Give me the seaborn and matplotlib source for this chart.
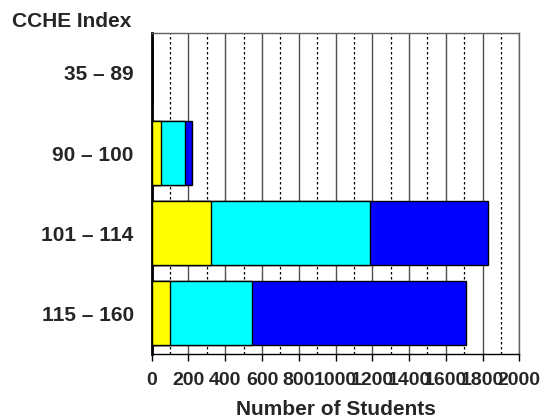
import numpy as np
import pandas as pd
import matplotlib
matplotlib.use("Agg")
import matplotlib.pyplot as plt
import seaborn as sns
from matplotlib.ticker import MultipleLocator

# ── data ─────────────────────────────────────────────────────
cche_index = ['35 – 89', '90 – 100', '101 – 114', '115 – 160']
group_low = [0, 52, 324, 101]
group_mid = [0, 131, 866, 445]
group_high = [0, 36, 638, 1166]

colors = ['#FFFF00', '#00FFFF', '#0000FF']

sns.set_theme(style="white")
plt.rcParams['font.family'] = ['Liberation Sans', 'DejaVu Sans']
plt.rcParams['font.weight'] = 'bold'

df = pd.DataFrame({'index': cche_index, 'low': group_low,
                   'mid': group_mid, 'high': group_high})
df['c1'] = df['low']
df['c2'] = df['c1'] + df['mid']
df['c3'] = df['c2'] + df['high']

fig = plt.figure(figsize=(5.43, 4.19), dpi=100)
ax = fig.add_axes([151.7 / 543, 1 - 353.5 / 419, (519.3 - 151.7) / 543, (353.5 - 32.7) / 419])

# stacked bars: draw cumulative totals, widest first
for col, c in zip(['c3', 'c2', 'c1'], colors[::-1]):
    sns.barplot(data=df, x=col, y='index', order=cche_index, orient='h',
                color=c, saturation=1, width=0.8, edgecolor='black',
                linewidth=1, ax=ax, zorder=3)

ax.set_xlim(0, 2000)
ax.set_ylim(3.5, -0.5)
ax.xaxis.set_major_locator(MultipleLocator(200))
ax.xaxis.set_minor_locator(MultipleLocator(100))
ax.grid(which='major', axis='x', color='#505050', linewidth=1, linestyle='-', zorder=0)
ax.grid(which='minor', axis='x', color='black', linewidth=0.9, linestyle=(0, (2, 2)), zorder=0)
ax.grid(axis='y', visible=False)
ax.set_axisbelow(True)

for s in ['top', 'right']:
    ax.spines[s].set_color('#606060')
    ax.spines[s].set_linewidth(1)
ax.spines['left'].set_color('black')
ax.spines['left'].set_linewidth(2)
ax.spines['bottom'].set_color('black')
ax.spines['bottom'].set_linewidth(1)

ax.tick_params(axis='x', which='major', direction='out', length=5, width=1,
               color='black', bottom=True, labelsize=14, pad=8)
ax.tick_params(axis='x', which='minor', length=0)
ax.tick_params(axis='y', length=0, labelsize=15, pad=13)
for lab in ax.get_xticklabels() + ax.get_yticklabels():
    lab.set_fontweight('bold')

ax.set_ylabel('')
ax.set_xlabel('Number of Students', fontsize=15, fontweight='bold', labelpad=8)

fig.text(12 / 543, 1 - 27 / 419, 'CCHE Index', fontsize=15, fontweight='bold',
         ha='left', va='baseline')

fig.savefig('out.png', dpi=100)
